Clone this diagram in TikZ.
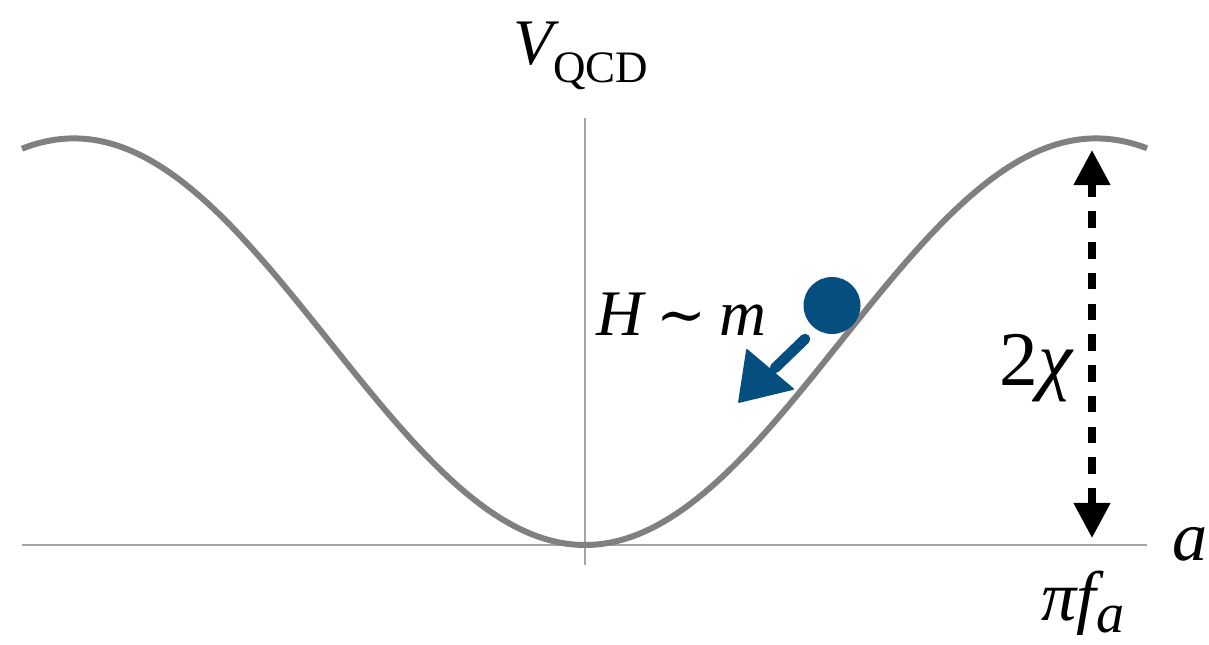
\documentclass[tikz,border=0pt]{standalone}
\usepackage{fontspec}
\setmainfont{Liberation Serif}
\newfontfamily\tildefont{DejaVu Serif}
\usetikzlibrary{arrows.meta}
\definecolor{curvegray}{RGB}{128,128,128}
\definecolor{axisgray}{RGB}{165,165,165}
\definecolor{ballblue}{RGB}{4,78,128}
\tikzset{
  axisline/.style={draw=axisgray, line width=0.8pt},
  potential/.style={draw=curvegray, line width=3.4pt},
  ball/.style={circle, fill=ballblue, inner sep=0pt, minimum size=57*0.02cm},
  kick/.style={draw=ballblue, line width=6pt, line cap=round},
  kickhead/.style={fill=ballblue, draw=ballblue, line width=1pt, line join=round},
  height/.style={draw=black, line width=4.2pt, dash pattern=on 9.5pt off 8pt,
    {Triangle[length=20pt,width=20pt]}-{Triangle[length=20pt,width=20pt]}},
  lbl/.style={inner sep=0pt, anchor=base west}
}
\begin{document}
\begin{tikzpicture}[x=0.02cm, y=-0.02cm]
\useasboundingbox (0,0) rectangle (1209,645);
% axes
\coordinate (xl) at (22,545);
\coordinate (xr) at (1147,545);
\coordinate (yt) at (585,118);
\coordinate (yb) at (585,565);
\draw[axisline] (xl) -- (xr);
\draw[axisline] (yb) -- (yt);
% potential
\draw[potential] plot[domain=22:1147, samples=240, smooth]
  ({\x},{341.7+203.3*cos((\x-585)/511*180)});
% ball
\node[ball] (ball) at (832,305.5) {};
% kick arrow
\coordinate (k1) at (805,339);
\coordinate (k2) at (775,368);
\coordinate (h1) at (747,350);
\coordinate (h2) at (793,389);
\coordinate (h3) at (739,402);
\draw[kick] (k1) -- (k2);
\fill[kickhead] (h1) -- (h2) -- (h3) -- cycle;
% height arrow
\coordinate (top) at (1092,150);
\coordinate (bot) at (1092,538);
\draw[height] (bot) -- (top);
% labels
\node[lbl] (V) at (513,65) {\fontsize{37}{40}\selectfont\itshape V\fontsize{25.6}{28}\selectfont\upshape\raisebox{-10pt}{QCD}};
\node[lbl] (H) at (596,335) {\fontsize{37}{40}\selectfont\itshape H\hspace{0.2em}{\upshape\tildefont\fontsize{34}{36}\selectfont ∼}\hspace{0.2em}m};
\node[lbl] (chi) at (999,385) {\fontsize{44}{48}\selectfont 2\itshape χ};
\node[lbl] (a) at (1172,560) {\fontsize{40}{42}\selectfont\itshape a};
\node[lbl] (pf) at (1041,620) {\fontsize{40}{44}\selectfont\itshape πf\raisebox{-7pt}{\fontsize{32}{34}\selectfont a}};
\end{tikzpicture}
\end{document}
